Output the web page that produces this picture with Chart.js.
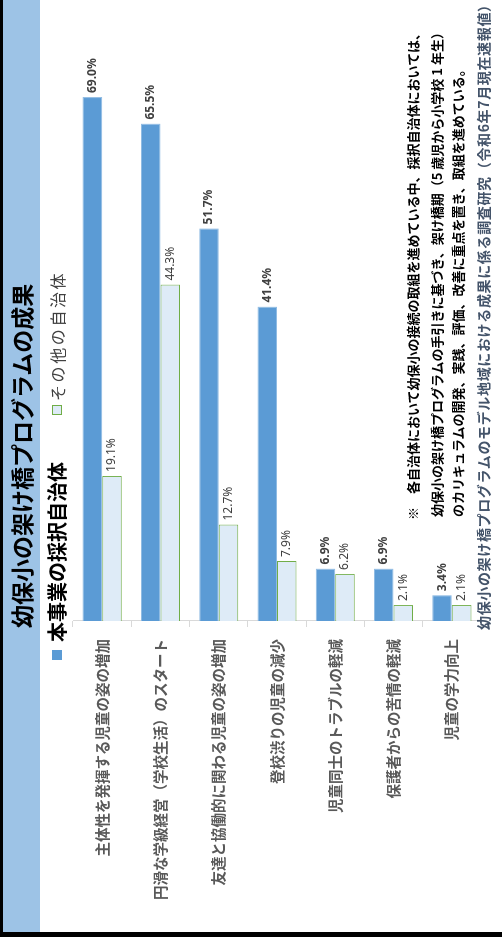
<!DOCTYPE html>
<html>
<head>
  <meta charset="utf-8">
  <title>幼保小の架け橋プログラムの成果</title>
  <script src="https://cdn.jsdelivr.net/npm/chart.js"></script>
  <style>
    body {
      margin: 0;
      width: 502px;
      height: 944px;
      overflow: hidden;
      background: #fff;
      font-family: "Noto Sans CJK JP", "Noto Sans", sans-serif;
    }
    /* the original chart is landscape, shown turned a quarter to the left */
    #page {
      position: absolute;
      left: 0;
      top: 0;
      width: 944px;
      height: 502px;
      background: #fff;
      transform-origin: 0 0;
      transform: translateY(944px) rotate(-90deg);
    }
    #page canvas { position: absolute; left: 0; top: 0; }
    .rule-top { position: absolute; left: 7px; top: 0; width: 937px; height: 2.5px; background: #000; }
    .rule-left { position: absolute; left: 7px; top: 0; width: 5px; height: 502px; background: #000; }
    .band { position: absolute; left: 12px; top: 3px; width: 932px; height: 37px; background: #9dc3e6; }
    .title {
      position: absolute; left: 316px; top: 3px; height: 37px; line-height: 37px;
      font-size: 23px; font-weight: bold; color: #000; white-space: nowrap;
    }
    .legend { position: absolute; top: 45px; height: 24px; line-height: 24px; white-space: nowrap; }
    .legend .box { position: absolute; top: 7px; width: 10px; height: 10px; box-sizing: border-box; }
    .legend .lbl { position: absolute; top: 0; }
    .note {
      position: absolute; white-space: nowrap; font-size: 13px; font-weight: 600; color: #000;
      line-height: 18px;
    }
    .source {
      position: absolute; white-space: nowrap; font-size: 14px; font-weight: 600; color: #44546a;
      letter-spacing: 0.65px; line-height: 18px;
    }
  </style>
</head>
<body>
  <div id="page">
    <div class="band"></div>
    <div class="rule-top"></div>
    <div class="rule-left"></div>
    <canvas id="chart" width="944" height="502"></canvas>
    <div class="title">幼保小の架け橋プログラムの成果</div>
    <div id="legend"></div>
    <div class="note" style="left:424px; top:404px;">※　各自治体において幼保小の接続の取組を進めている中、採択自治体においては、</div>
    <div class="note" style="left:427px; top:428px;">幼保小の架け橋プログラムの手引きに基づき、架け橋期（5 歳児から小学校 1 年生）</div>
    <div class="note" style="left:427px; top:449px;">のカリキュラムの開発、実践、評価、改善に重点を置き、取組を進めている。</div>
    <div class="source" style="left:314px; top:474px;">幼保小の架け橋プログラムのモデル地域における成果に係る調査研究（令和6年7月現在速報値）</div>
  </div>

  <script>
    const categories = [
      '主体性を発揮する児童の姿の増加',
      '円滑な学級経営（学校生活）のスタート',
      '友達と協働的に関わる児童の姿の増加',
      '登校渋りの児童の減少',
      '児童同士のトラブルの軽減',
      '保護者からの苦情の軽減',
      '児童の学力向上'
    ];
    const seriesNames = ['本事業の採択自治体', 'その他の自治体'];
    const adoptedValues = [69.0, 65.5, 51.7, 41.4, 6.9, 6.9, 3.4];
    const otherValues = [19.1, 44.3, 12.7, 7.9, 6.2, 2.1, 2.1];

    const jpFont = '"Noto Sans CJK JP", sans-serif';
    const colors = [
      { fill: '#5b9bd5', border: '#8fbbe3' },
      { fill: '#deebf7', border: '#70ad47' }
    ];

    // value labels at the end of each bar
    const barLabels = {
      id: 'barLabels',
      afterDatasetsDraw(chart) {
        const ctx = chart.ctx;
        ctx.save();
        ctx.textBaseline = 'middle';
        ctx.textAlign = 'left';
        chart.data.datasets.forEach((ds, i) => {
          ctx.fillStyle = '#404040';
          ctx.font = (i === 0 ? 'bold ' : '') + '12px "Noto Sans", sans-serif';
          chart.getDatasetMeta(i).data.forEach((bar, j) => {
            ctx.fillText(ds.data[j].toFixed(1) + '%', bar.x + 4, bar.y);
          });
        });
        ctx.restore();
      }
    };

    const ctx = document.getElementById('chart').getContext('2d');
    const chart = new Chart(ctx, {
      type: 'bar',
      data: {
        labels: categories,
        datasets: [
          {
            label: seriesNames[0],
            data: adoptedValues,
            backgroundColor: colors[0].fill,
            borderColor: colors[0].border,
            borderWidth: 1,
            categoryPercentage: 0.67,
            barPercentage: 1.0
          },
          {
            label: seriesNames[1],
            data: otherValues,
            backgroundColor: colors[1].fill,
            borderColor: colors[1].border,
            borderWidth: 1,
            categoryPercentage: 0.67,
            barPercentage: 1.0
          }
        ]
      },
      options: {
        indexAxis: 'y',
        responsive: false,
        animation: false,
        layout: { padding: { top: 73, bottom: 21, left: 0, right: 13.5 } },
        plugins: {
          legend: { display: false },
          title: { display: false },
          tooltip: { enabled: false }
        },
        scales: {
          x: { display: false, min: 0, max: 80 },
          y: {
            grid: { drawOnChartArea: false, color: '#d9d9d9', tickLength: 6, offset: true },
            border: { color: '#d9d9d9' },
            ticks: {
              color: '#595959',
              autoSkip: false,
              padding: 12,
              font: { family: jpFont, size: 14.5, weight: 'bold' }
            },
            afterFit(scale) { scale.width = 323; }
          }
        }
      },
      plugins: [barLabels]
    });

    // legend built from the series names and colours
    const legend = document.getElementById('legend');
    const legendPos = [
      { box: 284, text: 302, style: 'font-size:20px;font-weight:bold;color:#000;' },
      { box: 529, text: 543, style: 'font-size:16px;font-weight:normal;color:#404040;letter-spacing:2.6px;' }
    ];
    seriesNames.forEach((name, i) => {
      const item = document.createElement('div');
      item.className = 'legend';
      item.style.left = '0px';
      item.innerHTML =
        '<span class="box" style="left:' + legendPos[i].box + 'px;background:' + colors[i].fill +
        ';border:1px solid ' + (i === 0 ? colors[i].fill : colors[i].border) + ';"></span>' +
        '<span class="lbl" style="left:' + legendPos[i].text + 'px;' + legendPos[i].style + '">' + name + '</span>';
      legend.appendChild(item);
    });
  </script>
</body>
</html>
